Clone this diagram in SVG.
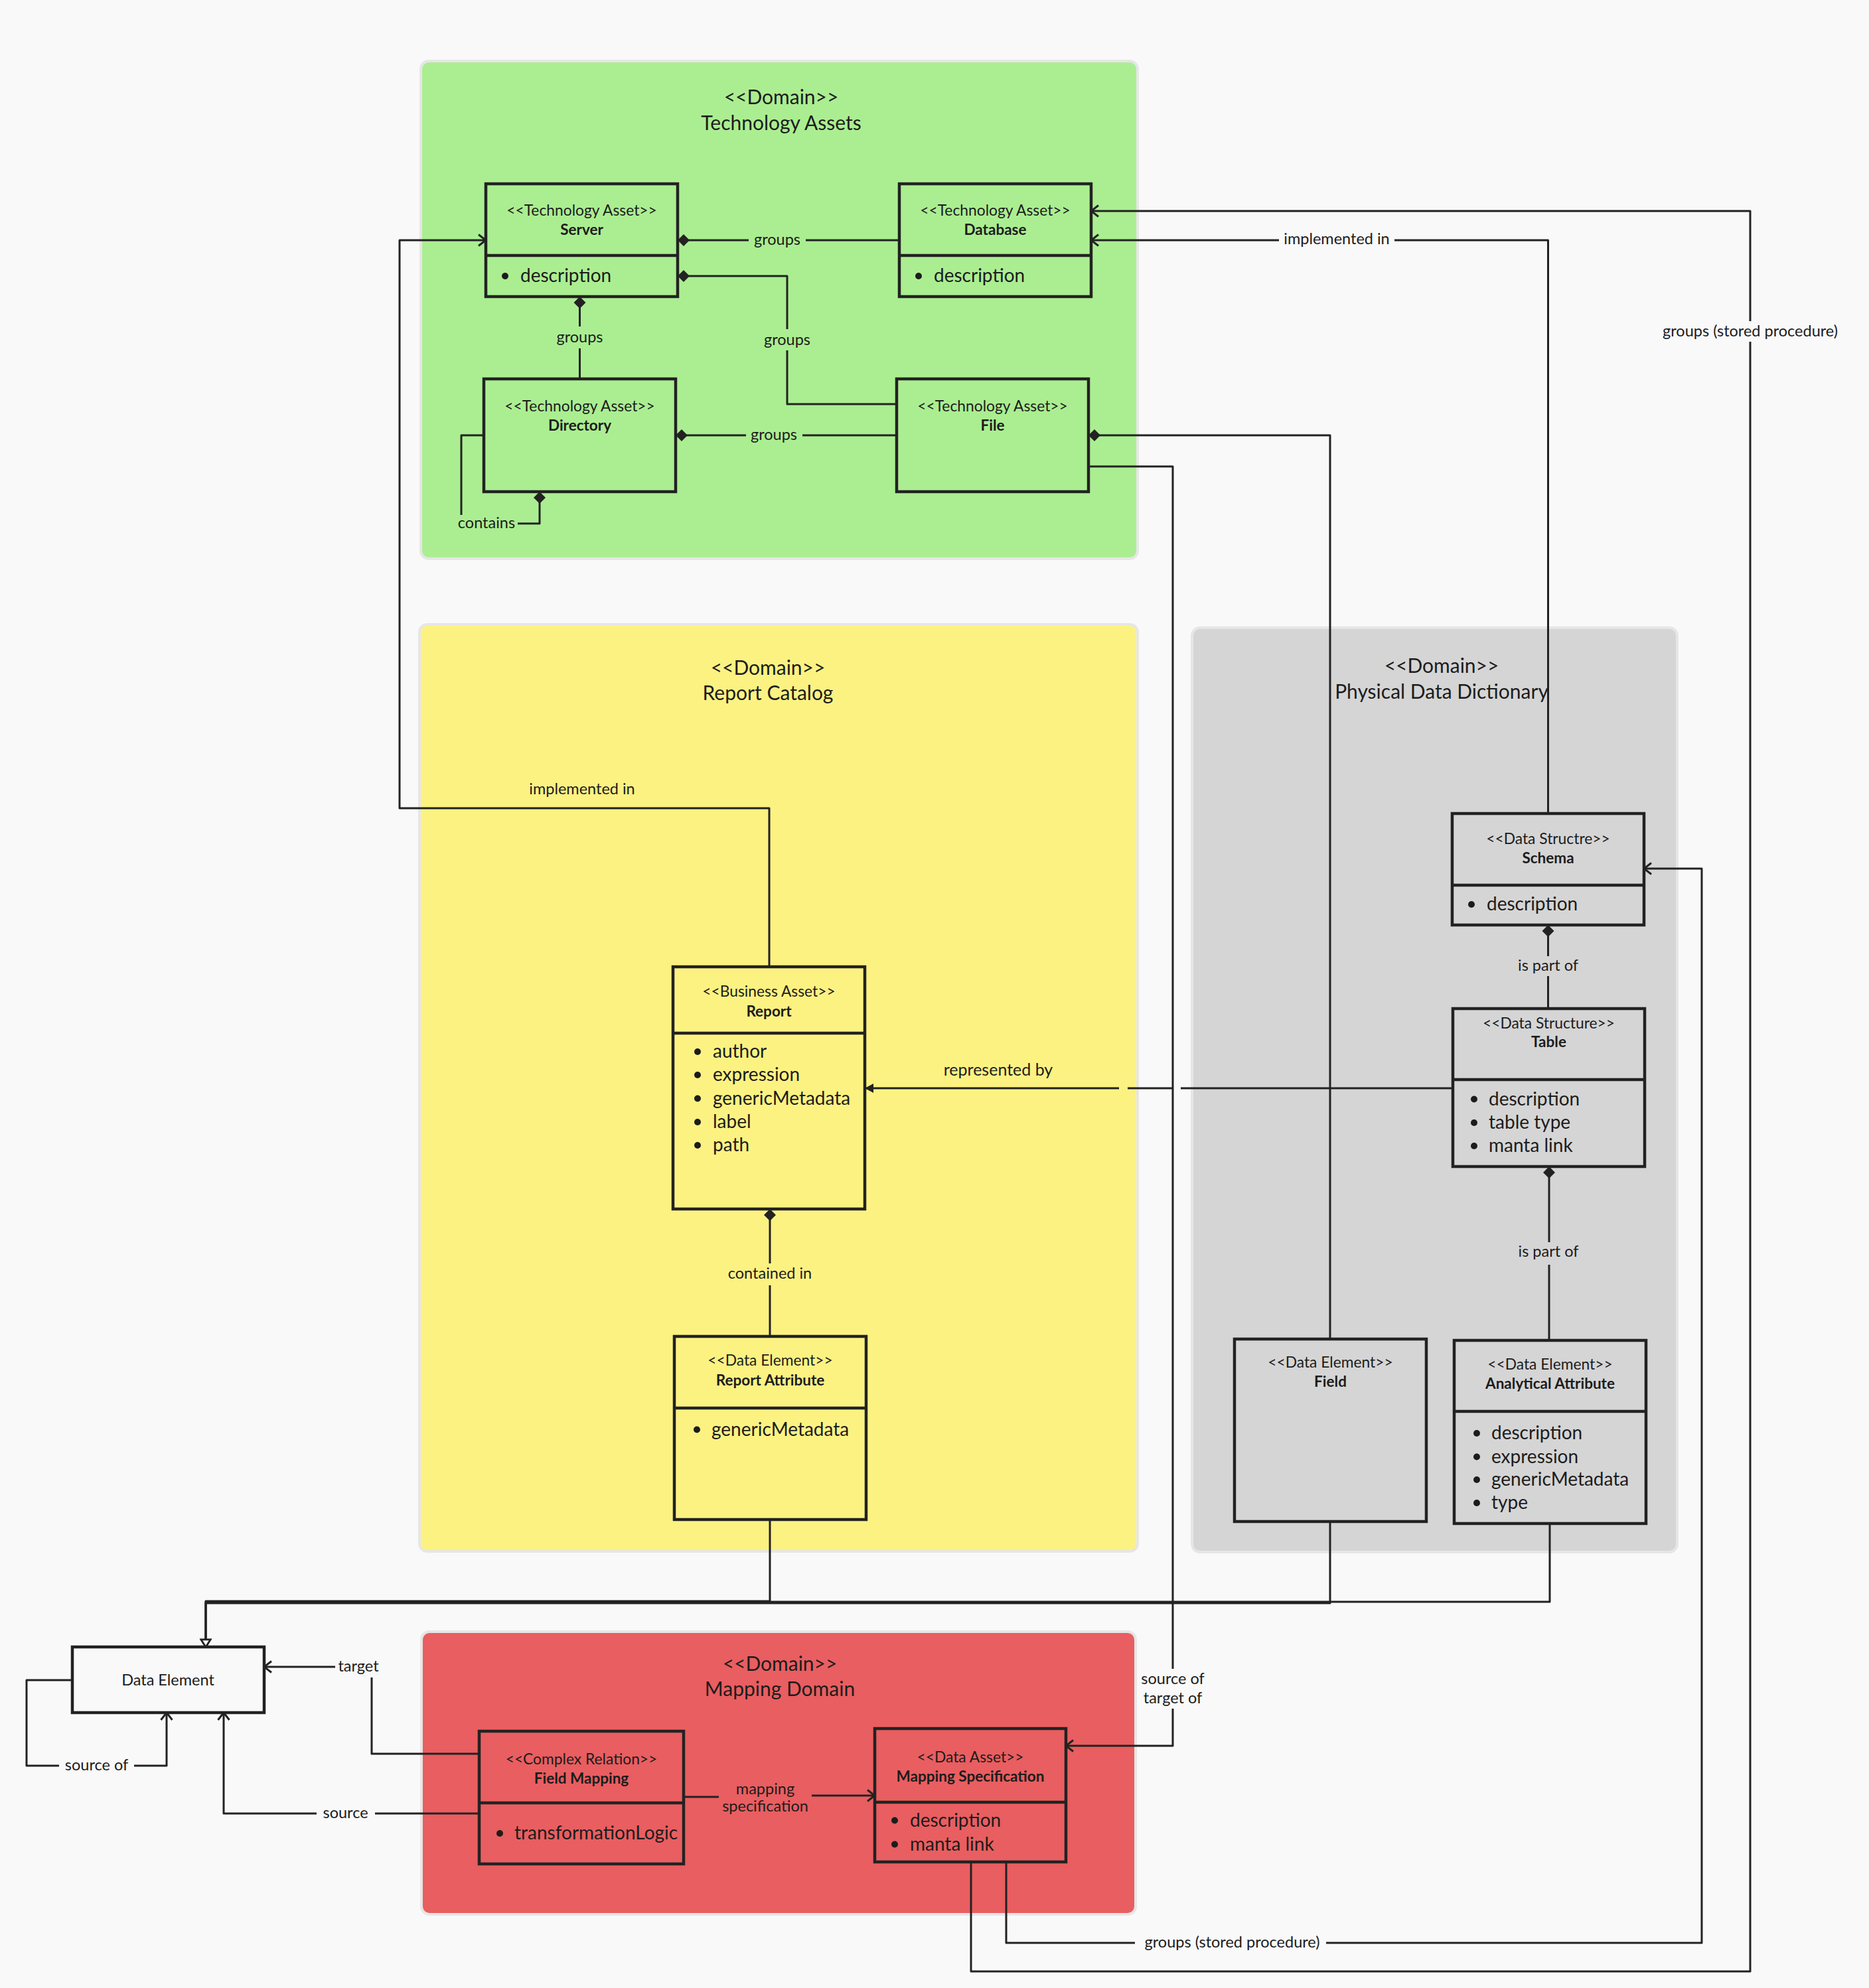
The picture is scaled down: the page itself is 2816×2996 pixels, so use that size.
<svg xmlns="http://www.w3.org/2000/svg" width="2816" height="2996" viewBox="0 0 2816 2996">
<style>
text{font-family:Lato,"Liberation Sans",sans-serif;fill:#1c1c1c}
.dom{stroke:#e6e6e6;stroke-width:4}
.box{fill:none;stroke:#222;stroke-width:4.5}
.dv{stroke:#222;stroke-width:4.5}
.st{font-size:22.8px;text-anchor:middle}
.nm{font-size:22.5px;font-weight:bold;text-anchor:middle}
.at{font-size:28px}
.dt{font-size:30px;text-anchor:middle}
.el{font-size:23.5px;text-anchor:middle}
.c{fill:none;stroke:#222;stroke-width:3;stroke-linejoin:round}
.bu{fill:#1c1c1c}
</style>
<defs>
<marker id="dia" markerUnits="userSpaceOnUse" viewBox="-20 -10 22 20" markerWidth="22" markerHeight="20" refX="0" refY="0" orient="auto"><path d="M0,0 L-9,-9 L-18,0 L-9,9 Z" fill="#222"/></marker>
<marker id="open" markerUnits="userSpaceOnUse" viewBox="-14 -11 16 22" markerWidth="16" markerHeight="22" refX="0" refY="0" orient="auto"><path d="M-11,-8.5 L0,0 L-11,8.5" fill="none" stroke="#222" stroke-width="3"/></marker>
<marker id="fill" markerUnits="userSpaceOnUse" viewBox="-15 -9 17 18" markerWidth="17" markerHeight="18" refX="0" refY="0" orient="auto"><path d="M0,0 L-13,-7 L-13,7 Z" fill="#222"/></marker>
<marker id="gen" markerUnits="userSpaceOnUse" viewBox="-14 -10 16 20" markerWidth="16" markerHeight="20" refX="0" refY="0" orient="auto"><path d="M0,0 L-11,-7 L-11,7 Z" fill="#f9f9f9" stroke="#222" stroke-width="2.5"/></marker>
</defs>
<rect x="0" y="0" width="2816" height="2996" fill="#f9f9f9"/>

<g id="domains">
<g id="domain-technology-assets">
<rect class="dom" x="634" y="92" width="1080" height="750" rx="12" fill="#abee91"/>
<text class="dt" x="1177" y="157">&lt;&lt;Domain&gt;&gt;</text>
<text class="dt" x="1177" y="196">Technology Assets</text>
</g>
<g id="domain-report-catalog">
<rect class="dom" x="632" y="941" width="1082" height="1397" rx="12" fill="#fcf282"/>
<text class="dt" x="1157" y="1017">&lt;&lt;Domain&gt;&gt;</text>
<text class="dt" x="1157" y="1055">Report Catalog</text>
</g>
<g id="domain-physical-data-dictionary">
<rect class="dom" x="1796" y="946" width="731" height="1393" rx="12" fill="#d5d5d5"/>
<text class="dt" x="2172" y="1014">&lt;&lt;Domain&gt;&gt;</text>
<text class="dt" x="2172" y="1053">Physical Data Dictionary</text>
</g>
<g id="domain-mapping">
<rect class="dom" x="635" y="2459" width="1076" height="426" rx="12" fill="#e95e60"/>
<text class="dt" x="1175" y="2518">&lt;&lt;Domain&gt;&gt;</text>
<text class="dt" x="1175" y="2556">Mapping Domain</text>
</g>
</g>

<g id="connectors">
<path class="c" d="M1355,362 H1021" marker-end="url(#dia)"/>
<path class="c" d="M1351,609 H1186 V416 H1021" marker-end="url(#dia)"/>
<path class="c" d="M873.5,571 V447" marker-end="url(#dia)"/>
<path class="c" d="M1351,656 H1018" marker-end="url(#dia)"/>
<path class="c" d="M729,656 H695 V789 H813 V741" marker-end="url(#dia)"/>
<path class="c" d="M1159,1457 V1218 H602 V362 H732" marker-end="url(#open)"/>
<path class="c" d="M2332.5,1226 V362 H1644" marker-end="url(#open)"/>
<path class="c" d="M1463,2806 V2971 H2637 V318 H1644" marker-end="url(#open)"/>
<path class="c" d="M1516,2806 V2928 H2564 V1309 H2477" marker-end="url(#open)"/>
<path class="c" d="M2004,2018 V656 H1640" marker-end="url(#dia)"/>
<path class="c" d="M1640,703 H1767 V2631 H1606" marker-end="url(#open)"/>
<path class="c" d="M2189,1640 H1779 M1766,1640 H1699 M1686,1640 H1303" marker-end="url(#fill)"/>
<path class="c" d="M1160,2014 V1822" marker-end="url(#dia)"/>
<path class="c" d="M2332.5,1520 V1394" marker-end="url(#dia)"/>
<path class="c" d="M2334,2020 V1758" marker-end="url(#dia)"/>
<path class="c" d="M1160,2290 V2413 H310 V2482" marker-end="url(#gen)"/>
<path class="c" d="M2004,2293 V2416 H310 V2482" marker-end="url(#gen)"/>
<path class="c" d="M2335,2296 V2414 H310 V2482" marker-end="url(#gen)"/>
<path class="c" d="M722,2643 H560 V2512 H398" marker-end="url(#open)"/>
<path class="c" d="M722,2733 H337 V2581" marker-end="url(#open)"/>
<path class="c" d="M109,2532 H40 V2661 H251 V2581" marker-end="url(#open)"/>
<path class="c" d="M1030,2708 H1083 M1223,2706 H1318" marker-end="url(#open)"/>

<rect x="1128" y="349" width="86" height="26" fill="#abee91"/>
<text class="el" x="1171" y="369">groups</text>
<rect x="1146" y="496" width="80" height="32" fill="#abee91"/>
<text class="el" x="1186" y="520">groups</text>
<rect x="833" y="492" width="81" height="33" fill="#abee91"/>
<text class="el" x="873.5" y="516">groups</text>
<rect x="1124" y="643" width="85" height="26" fill="#abee91"/>
<text class="el" x="1166" y="663">groups</text>
<rect x="688" y="776" width="92" height="26" fill="#abee91"/>
<text class="el" x="733" y="796">contains</text>
<text class="el" x="877" y="1197">implemented in</text>
<rect x="1927" y="348" width="174" height="26" fill="#f9f9f9"/>
<text class="el" x="2014" y="368">implemented in</text>
<rect x="2498" y="484" width="279" height="31" fill="#f9f9f9"/>
<text class="el" x="2637" y="507">groups (stored procedure)</text>
<rect x="1710" y="2915" width="288" height="26" fill="#f9f9f9"/>
<text class="el" x="1856.5" y="2935">groups (stored procedure)</text>
<rect x="1714" y="2515" width="106" height="60" fill="#f9f9f9"/>
<text class="el" x="1767" y="2538">source of</text>
<text class="el" x="1767" y="2567">target of</text>
<text class="el" x="1504" y="1621" style="font-size:25px">represented by</text>
<rect x="1088" y="1904" width="144" height="33" fill="#fcf282"/>
<text class="el" x="1160" y="1927">contained in</text>
<rect x="2268" y="1441" width="129" height="30" fill="#d5d5d5"/>
<text class="el" x="2332.5" y="1463">is part of</text>
<rect x="2268" y="1872" width="129" height="34" fill="#d5d5d5"/>
<text class="el" x="2333" y="1894">is part of</text>
<rect x="505" y="2498" width="71" height="30" fill="#f9f9f9"/>
<text class="el" x="540" y="2519">target</text>
<rect x="477" y="2720" width="88" height="26" fill="#f9f9f9"/>
<text class="el" x="520.5" y="2740">source</text>
<rect x="89" y="2648" width="113" height="26" fill="#f9f9f9"/>
<text class="el" x="145.5" y="2668">source of</text>
<text class="el" x="1153" y="2704">mapping</text>
<text class="el" x="1153" y="2730">specification</text>
</g>

<g id="server">
<rect class="box" x="732" y="277" width="289" height="170"/>
<line class="dv" x1="732" y1="385" x2="1021" y2="385"/>
<text class="st" x="876.5" y="325">&lt;&lt;Technology Asset&gt;&gt;</text>
<text class="nm" x="876.5" y="354">Server</text>
<circle class="bu" cx="761" cy="416" r="5"/>
<text class="at" x="784" y="425">description</text>
</g>
<g id="database">
<rect class="box" x="1355" y="277" width="289" height="170"/>
<line class="dv" x1="1355" y1="385" x2="1644" y2="385"/>
<text class="st" x="1499.5" y="325">&lt;&lt;Technology Asset&gt;&gt;</text>
<text class="nm" x="1499.5" y="354">Database</text>
<circle class="bu" cx="1384" cy="416" r="5"/>
<text class="at" x="1407" y="425">description</text>
</g>
<g id="directory">
<rect class="box" x="729" y="571" width="289" height="170"/>
<text class="st" x="873.5" y="620">&lt;&lt;Technology Asset&gt;&gt;</text>
<text class="nm" x="873.5" y="649">Directory</text>
</g>
<g id="file">
<rect class="box" x="1351" y="571" width="289" height="170"/>
<text class="st" x="1495.5" y="620">&lt;&lt;Technology Asset&gt;&gt;</text>
<text class="nm" x="1495.5" y="649">File</text>
</g>

<g id="report">
<rect class="box" x="1014" y="1457" width="289" height="365"/>
<line class="dv" x1="1014" y1="1557" x2="1303" y2="1557"/>
<text class="st" x="1158.5" y="1502">&lt;&lt;Business Asset&gt;&gt;</text>
<text class="nm" x="1158.5" y="1532">Report</text>
<circle class="bu" cx="1051" cy="1585" r="5"/><text class="at" x="1074" y="1594">author</text>
<circle class="bu" cx="1051" cy="1620" r="5"/><text class="at" x="1074" y="1629">expression</text>
<circle class="bu" cx="1051" cy="1655.5" r="5"/><text class="at" x="1074" y="1665">genericMetadata</text>
<circle class="bu" cx="1051" cy="1691" r="5"/><text class="at" x="1074" y="1700">label</text>
<circle class="bu" cx="1051" cy="1726" r="5"/><text class="at" x="1074" y="1735">path</text>
</g>
<g id="report-attribute">
<rect class="box" x="1016" y="2014" width="289" height="276"/>
<line class="dv" x1="1016" y1="2122" x2="1305" y2="2122"/>
<text class="st" x="1160.5" y="2058">&lt;&lt;Data Element&gt;&gt;</text>
<text class="nm" x="1160.5" y="2088">Report Attribute</text>
<circle class="bu" cx="1050" cy="2154.5" r="5"/><text class="at" x="1072" y="2164">genericMetadata</text>
</g>

<g id="schema">
<rect class="box" x="2188" y="1226" width="289" height="168"/>
<line class="dv" x1="2188" y1="1334" x2="2477" y2="1334"/>
<text class="st" x="2332.5" y="1272">&lt;&lt;Data Structre&gt;&gt;</text>
<text class="nm" x="2332.5" y="1301">Schema</text>
<circle class="bu" cx="2217" cy="1363" r="5"/><text class="at" x="2240" y="1372">description</text>
</g>
<g id="table">
<rect class="box" x="2189" y="1520" width="289" height="238"/>
<line class="dv" x1="2189" y1="1627" x2="2478" y2="1627"/>
<text class="st" x="2333.5" y="1550">&lt;&lt;Data Structure&gt;&gt;</text>
<text class="nm" x="2333.5" y="1578">Table</text>
<circle class="bu" cx="2221" cy="1656.5" r="5"/><text class="at" x="2243" y="1666">description</text>
<circle class="bu" cx="2221" cy="1692" r="5"/><text class="at" x="2243" y="1701">table type</text>
<circle class="bu" cx="2221" cy="1727" r="5"/><text class="at" x="2243" y="1736">manta link</text>
</g>
<g id="field">
<rect class="box" x="1860" y="2018" width="289" height="275"/>
<text class="st" x="2004.5" y="2061">&lt;&lt;Data Element&gt;&gt;</text>
<text class="nm" x="2004.5" y="2090">Field</text>
</g>
<g id="analytical-attribute">
<rect class="box" x="2191" y="2020" width="289" height="276"/>
<line class="dv" x1="2191" y1="2127" x2="2480" y2="2127"/>
<text class="st" x="2335.5" y="2064">&lt;&lt;Data Element&gt;&gt;</text>
<text class="nm" x="2335.5" y="2093">Analytical Attribute</text>
<circle class="bu" cx="2225" cy="2160" r="5"/><text class="at" x="2247" y="2169">description</text>
<circle class="bu" cx="2225" cy="2195.5" r="5"/><text class="at" x="2247" y="2205">expression</text>
<circle class="bu" cx="2225" cy="2230" r="5"/><text class="at" x="2247" y="2239">genericMetadata</text>
<circle class="bu" cx="2225" cy="2265" r="5"/><text class="at" x="2247" y="2274">type</text>
</g>

<g id="data-element">
<rect class="box" x="109" y="2482" width="289" height="99"/>
<text class="el" x="253" y="2540">Data Element</text>
</g>
<g id="field-mapping">
<rect class="box" x="722" y="2609" width="308" height="200"/>
<line class="dv" x1="722" y1="2717" x2="1030" y2="2717"/>
<text class="st" x="876" y="2659">&lt;&lt;Complex Relation&gt;&gt;</text>
<text class="nm" x="876" y="2688">Field Mapping</text>
<circle class="bu" cx="753" cy="2763" r="5"/><text class="at" x="775" y="2772">transformationLogic</text>
</g>
<g id="mapping-specification">
<rect class="box" x="1318" y="2605" width="288" height="201"/>
<line class="dv" x1="1318" y1="2716" x2="1606" y2="2716"/>
<text class="st" x="1462" y="2656">&lt;&lt;Data Asset&gt;&gt;</text>
<text class="nm" x="1462" y="2685">Mapping Specification</text>
<circle class="bu" cx="1348" cy="2743.5" r="5"/><text class="at" x="1371" y="2753">description</text>
<circle class="bu" cx="1348" cy="2779.5" r="5"/><text class="at" x="1371" y="2789">manta link</text>
</g>
</svg>
